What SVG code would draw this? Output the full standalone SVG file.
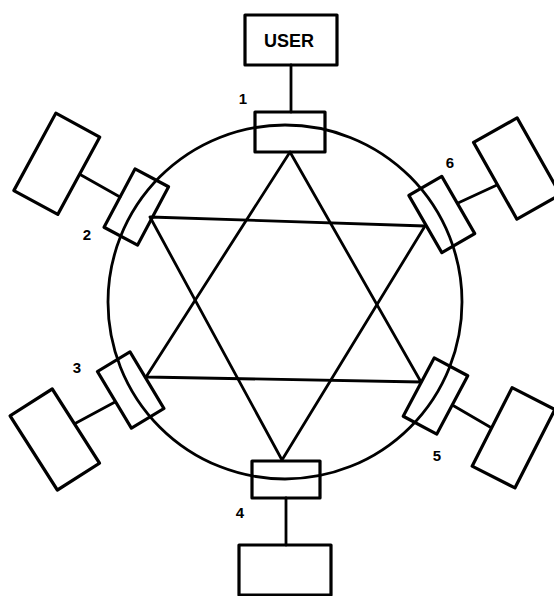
<svg xmlns="http://www.w3.org/2000/svg" width="554" height="596" viewBox="0 0 554 596">
<style>
.b{fill:none;stroke:#000;stroke-width:3.2;stroke-linejoin:round}
.c{fill:none;stroke:#000;stroke-width:2.8;stroke-linecap:round}
.t{font-family:"Liberation Sans",Arial,sans-serif;font-weight:bold;fill:#000;text-anchor:middle}
</style>
<rect width="554" height="596" fill="#fff"/>
<g id="ring"><circle cx="285" cy="302" r="177" class="c"/></g>
<g id="connectors">
<polygon points="290,152 146,377 421,382" class="c" stroke-linejoin="round"/>
<polygon points="282,460 150,217 425,226" class="c" stroke-linejoin="round"/>
<line x1="291" y1="65" x2="291" y2="112" class="c"/>
<line x1="286" y1="498" x2="286" y2="545" class="c"/>
<line x1="81" y1="175" x2="120" y2="197" class="c"/>
<line x1="76" y1="423" x2="115" y2="402" class="c"/>
<line x1="458" y1="203" x2="497" y2="185" class="c"/>
<line x1="454" y1="406" x2="490" y2="427" class="c"/>
</g>
<g id="node1"><rect x="255" y="112" width="70" height="40" class="b"/><text x="243" y="104" font-size="15" class="t">1</text></g>
<g id="node2"><rect x="-33" y="-19" width="66" height="38" class="b" transform="translate(136.3,207) rotate(-62)"/><text x="87" y="240" font-size="15" class="t">2</text></g>
<g id="node3"><rect x="-33" y="-19" width="66" height="38" class="b" transform="translate(130.7,390) rotate(59)"/><text x="77" y="373" font-size="15" class="t">3</text></g>
<g id="node4"><rect x="252" y="461" width="68" height="37" class="b"/><text x="240" y="518" font-size="15" class="t">4</text></g>
<g id="node5"><rect x="-33" y="-19" width="66" height="38" class="b" transform="translate(435.5,396) rotate(-62)"/><text x="437" y="461" font-size="15" class="t">5</text></g>
<g id="node6"><rect x="-33" y="-19" width="66" height="38" class="b" transform="translate(441.8,214.5) rotate(60)"/><text x="450" y="168" font-size="15" class="t">6</text></g>
<g id="user"><rect x="245" y="15" width="92" height="50" class="b"/><text x="289" y="47" font-size="18" class="t">USER</text></g>
<g id="station4"><rect x="239" y="545" width="92" height="50" class="b"/></g>
<g id="station2"><rect x="-44" y="-25" width="88" height="50" class="b" transform="translate(56.8,163.8) rotate(-61.5)"/></g>
<g id="station3"><rect x="-44" y="-25" width="88" height="50" class="b" transform="translate(54.8,439.5) rotate(57.5)"/></g>
<g id="station6"><rect x="-44" y="-25" width="88" height="50" class="b" transform="translate(517,168.5) rotate(60.5)"/></g>
<g id="station5"><rect x="-44" y="-24" width="88" height="48" class="b" transform="translate(513.5,437.8) rotate(-63)"/></g>
</svg>
